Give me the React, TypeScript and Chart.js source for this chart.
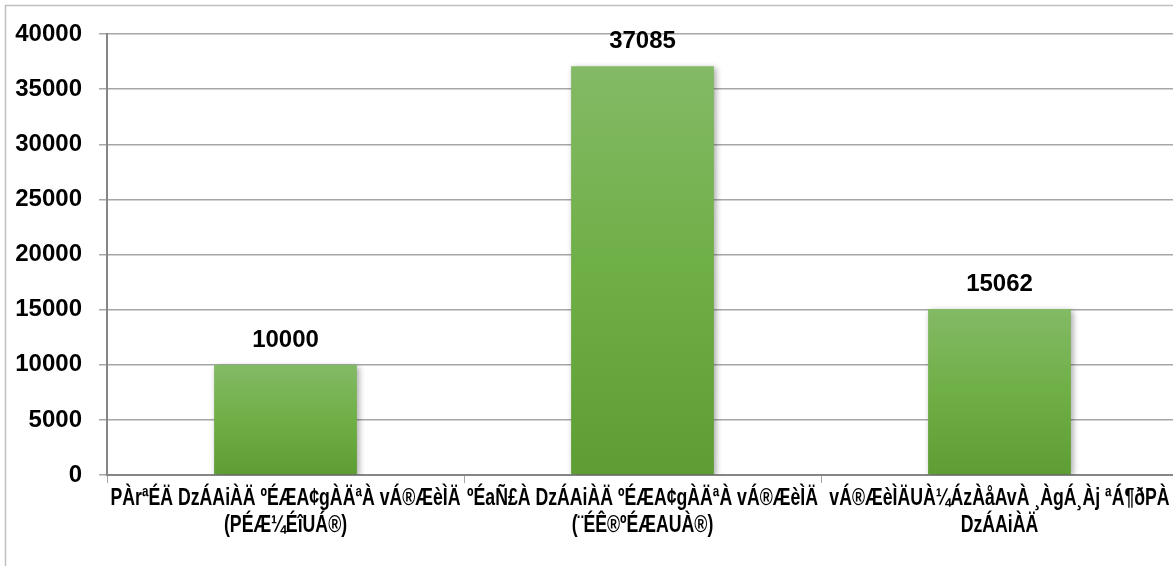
import React, { useEffect, useRef } from "react";
import { Chart, registerables } from "chart.js";

Chart.register(...registerables);

const categories: string[][] = [
  ["PÀrªÉÄ DzÁAiÀÄ ºÉÆA¢gÀÄªÀ vÁ®ÆèÌÄ", "(PÉÆ¼ÉîUÁ®)"],
  ["ºÉaÑ£À DzÁAiÀÄ ºÉÆA¢gÀÄªÀ vÁ®ÆèÌÄ", "(¨ÉÊ®ºÉÆAUÀ®)"],
  ["vÁ®ÆèÌÄUÀ¼ÁzÀåAvÀ ¸ÀgÁ¸Àj ªÁ¶ðPÀ", "DzÁAiÀÄ"],
];
const values: number[] = [10000, 37085, 15062];
const yMin = 0;
const yMax = 40000;
const yStep = 5000;

const NUM_FONT = '"Liberation Sans", Arial, sans-serif';
const LABEL_FONT = '"Liberation Sans", Arial, sans-serif';

export default function App() {
  const ref = useRef<HTMLCanvasElement | null>(null);

  useEffect(() => {
    if (!ref.current) return;

    const borderPlugin = {
      id: "outerBorder",
      beforeDraw(chart: any) {
        const ctx = chart.ctx;
        ctx.save();
        ctx.fillStyle = "#ffffff";
        ctx.fillRect(0, 0, chart.width, chart.height);
        ctx.strokeStyle = "#BFBFBF";
        ctx.lineWidth = 1.5;
        ctx.strokeRect(5.5, 5.5, 2000, 2000);
        ctx.restore();
      },
    };

    const shadowPlugin = {
      id: "barShadow",
      beforeDatasetsDraw(chart: any) {
        const ctx = chart.ctx;
        ctx.save();
        ctx.shadowColor = "rgba(0,0,0,0.35)";
        ctx.shadowBlur = 6;
        ctx.shadowOffsetX = 2;
        ctx.shadowOffsetY = 2;
      },
      afterDatasetsDraw(chart: any) {
        chart.ctx.restore();
      },
    };

    const labelPlugin = {
      id: "valueLabels",
      afterDatasetsDraw(chart: any) {
        const ctx = chart.ctx;
        const meta = chart.getDatasetMeta(0);
        ctx.save();
        ctx.font = `bold 24px ${NUM_FONT}`;
        ctx.fillStyle = "#000000";
        ctx.textAlign = "center";
        ctx.textBaseline = "alphabetic";
        meta.data.forEach((el: any, i: number) => {
          ctx.fillText(String(values[i]), el.x, el.y - 18);
        });
        ctx.restore();
      },
    };

    // category labels in a condensed (horizontally narrowed) bold face
    const categoryPlugin = {
      id: "categoryLabels",
      afterDraw(chart: any) {
        const ctx = chart.ctx;
        const xs = chart.scales.x;
        ctx.save();
        ctx.font = `bold 24px ${LABEL_FONT}`;
        ctx.fillStyle = "#000000";
        ctx.textAlign = "center";
        ctx.textBaseline = "alphabetic";
        const ref0 = ctx.measureText(categories[0][0]).width || 1;
        const sx = 350 / ref0;
        const base = xs.top + 30;
        categories.forEach((lines, i) => {
          const x = xs.getPixelForValue(i);
          lines.forEach((line, j) => {
            ctx.save();
            ctx.translate(x, base + j * 27);
            ctx.scale(sx, 1);
            ctx.fillText(line, 0, 0);
            ctx.restore();
          });
        });
        ctx.restore();
      },
    };

    const chart = new Chart(ref.current, {
      type: "bar",
      data: {
        labels: categories,
        datasets: [
          {
            data: values,
            barPercentage: 0.4,
            categoryPercentage: 1,
            backgroundColor: (c: any) => {
              const ch = c.chart;
              const ys = ch.scales && ch.scales.y;
              if (!ys || c.type !== "data") return "#70AD47";
              const top = ys.getPixelForValue(values[c.dataIndex]);
              const bottom = ys.getPixelForValue(0);
              if (!isFinite(top) || !isFinite(bottom) || top === bottom) return "#70AD47";
              const g = ch.ctx.createLinearGradient(0, top, 0, bottom);
              g.addColorStop(0, "#83BA66");
              g.addColorStop(0.5, "#6FAF46");
              g.addColorStop(1, "#5E9D34");
              return g;
            },
            borderWidth: 0,
          },
        ],
      },
      options: {
        responsive: false,
        animation: false,
        devicePixelRatio: 1,
        layout: { padding: { top: 34, left: 0, right: 2, bottom: 0 } },
        plugins: {
          legend: { display: false },
          tooltip: { enabled: false },
          title: { display: false },
        },
        scales: {
          x: {
            offset: true,
            grid: {
              display: true,
              drawOnChartArea: false,
              offset: true,
              tickLength: 8,
              color: "#A6A6A6",
              lineWidth: 1,
            },
            border: { display: true, color: "#868686", width: 2 },
            ticks: {
              display: false,
              autoSkip: false,
              maxRotation: 0,
              minRotation: 0,
            },
            afterFit(scale: any) {
              scale.height = 125;
              scale.paddingLeft = 0;
              scale.paddingRight = 0;
            },
          },
          y: {
            min: yMin,
            max: yMax,
            ticks: {
              stepSize: yStep,
              color: "#000000",
              padding: 17,
              font: { family: NUM_FONT, size: 24, weight: "bold" },
              callback: (v: any) => String(v),
            },
            grid: {
              color: "#A6A6A6",
              lineWidth: 1.5,
              tickLength: 8,
            },
            border: { display: true, color: "#868686", width: 2 },
            afterFit(scale: any) {
              scale.width = 107;
            },
          },
        },
      },
      plugins: [borderPlugin, shadowPlugin, labelPlugin, categoryPlugin],
    });

    return () => chart.destroy();
  }, []);

  return (
    <div
      style={{
        position: "fixed",
        left: 0,
        top: 0,
        width: 1173,
        height: 566,
        overflow: "hidden",
        background: "#ffffff",
      }}
    >
      <canvas
        ref={ref}
        width={1180}
        height={600}
        style={{ width: 1180, height: 600, display: "block" }}
      />
    </div>
  );
}
